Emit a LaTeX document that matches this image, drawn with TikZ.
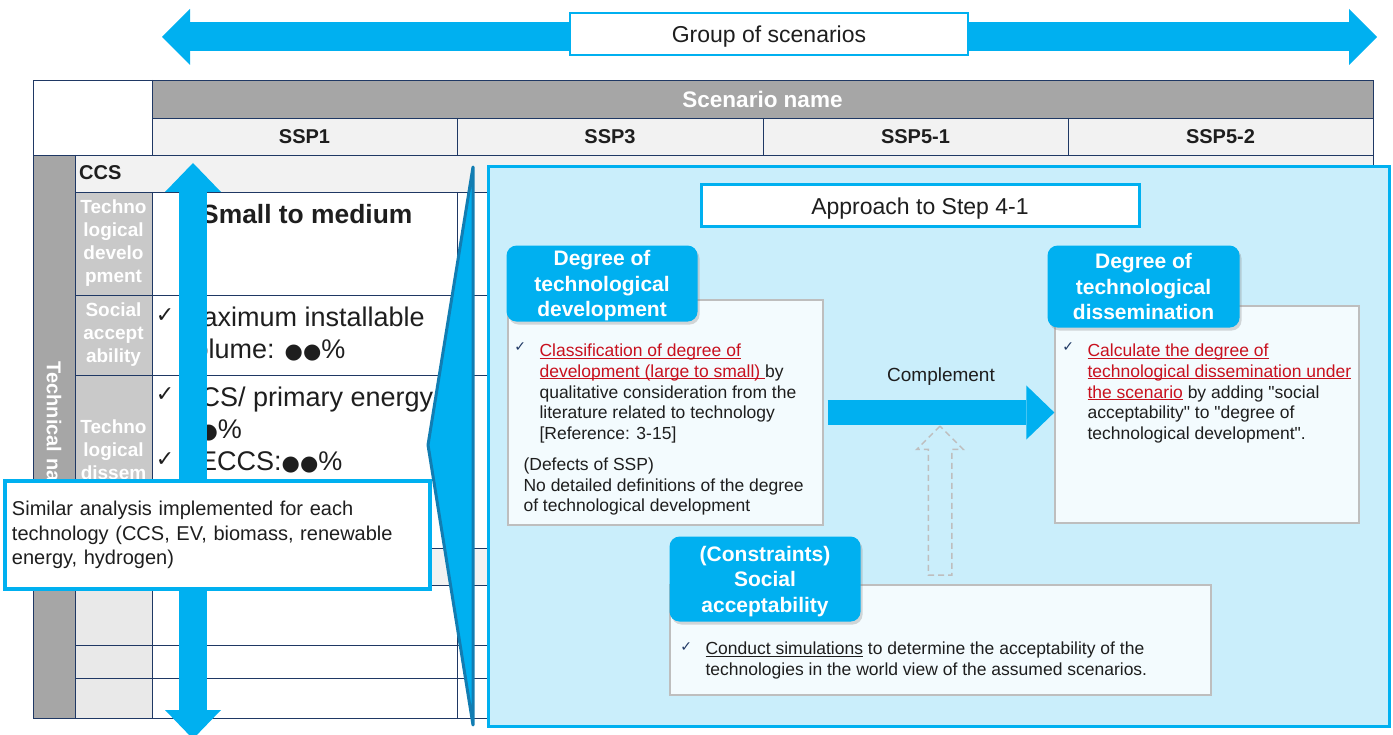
\documentclass[tikz,border=0pt]{standalone}
\usepackage{fontspec}
\setmainfont[Ligatures=TeXOff]{Liberation Sans}
\newfontfamily\dejavu{DejaVu Sans}
\usepackage{xcolor}
\usetikzlibrary{arrows.meta,positioning,calc,shadows,shapes.arrows}

\definecolor{sky}{RGB}{0,176,240}
\definecolor{skypale}{RGB}{202,238,251}
\definecolor{skyedge}{RGB}{18,125,178}
\definecolor{navy}{RGB}{31,56,100}
\definecolor{hdgray}{RGB}{166,166,166}
\definecolor{rhgray}{RGB}{201,201,201}
\definecolor{pale}{RGB}{242,242,242}
\definecolor{lowgray}{RGB}{233,233,233}
\definecolor{edgegray}{RGB}{190,190,190}
\definecolor{notefill}{RGB}{243,251,254}
\definecolor{redtxt}{RGB}{200,16,30}
\definecolor{ink}{RGB}{30,30,30}

\newcommand{\fsz}[2]{\fontsize{#1}{#2}\selectfont}
\newsavebox{\undlbox}
\newcommand{\undl}[1]{\sbox\undlbox{#1}\rlap{\rule[-2pt]{\wd\undlbox}{0.9pt}}\usebox\undlbox}
\newcommand{\dotglyph}{{\dejavu\fsz{21}{21}●}}

\begin{document}
\begin{tikzpicture}[x=1pt, y=-1pt,
  tblline/.style={draw=navy, line width=0.9pt},
  colhead/.style={font=\bfseries\fsz{20}{24}, text=ink, inner sep=0pt},
  rowhead/.style={font=\bfseries\fsz{19}{23}, text=white, align=center, inner sep=0pt},
  cell/.style={font=\fsz{27}{32}, text=ink, anchor=west, align=left, inner sep=0pt},
  bigtick/.style={font=\dejavu\fsz{22}{22}, text=ink, inner sep=0pt},
  titlebox/.style={draw=sky, line width=3pt, fill=white, text=ink, font=\fsz{23}{27}, inner sep=0pt, text depth=0pt},
  tabbox/.style={fill=sky, rounded corners=10pt, text=white, align=center, font=\bfseries\fsz{21}{25.5}, inner sep=0pt, text depth=0pt, anchor=north west, drop shadow={shadow xshift=2pt, shadow yshift=-3pt, opacity=0.3}},
  notebox/.style={draw=edgegray, fill=notefill, line width=1.3pt, inner sep=0pt},
  notetext/.style={font=\fsz{17.5}{20.8}, text=ink, align=left, anchor=north west, inner sep=0pt},
  smalltick/.style={font=\dejavu\fsz{14}{14}, text=navy, inner sep=0pt}]
\useasboundingbox (0,0) rectangle (1393,735);
% scenario table
\fill[hdgray] (152,80) rectangle (1373,118);
\fill[pale] (152,118) rectangle (1373,155);
\fill[hdgray] (33,155) rectangle (75,718);
\fill[pale] (75,155) rectangle (1373,192);
\fill[rhgray] (75,192) rectangle (152,548);
\fill[pale] (75,548) rectangle (1373,585);
\fill[lowgray] (75,585) rectangle (152,718);
\draw[tblline] (33,80) rectangle (1373,718);
\draw[tblline] (152,80) -- (152,155) (152,118) -- (1373,118) (33,155) -- (1373,155)
  (75,155) -- (75,718) (75,192) -- (1373,192) (152,192) -- (152,718);
\foreach \cx in {457,763,1068}
  \draw[tblline] (\cx,118) -- (\cx,155) (\cx,192) -- (\cx,548) (\cx,585) -- (\cx,718);
\foreach \ry in {295,375,548,585,645,678}
  \draw[tblline] (75,\ry) -- (1373,\ry);
\node[font=\bfseries\fsz{22.5}{27}, text=white, inner sep=0pt] (scname) at (762.5,99) {Scenario name};
\foreach \lab/\cx in {SSP1/304.5, SSP3/610, SSP5-1/915.5, SSP5-2/1220.5}
  \node[colhead] (h-\lab) at (\cx,137) {\lab};
\node[colhead, anchor=west] (ccs) at (79,173) {CCS};
\node[rowhead, rotate=-90, font=\bfseries\fsz{20}{24}] (techname) at (54,436) {Technical name};
\node[rowhead] (rhdev) at (113.5,243.5) {Techno\\logical\\develo\\pment};
\node[rowhead] (rhsoc) at (113.5,335) {Social\\accept\\ability};
\node[rowhead] (rhdis) at (113.5,461) {Techno\\logical\\dissem\\ination};
\node[cell, font=\bfseries\fsz{26.4}{32}] (cdev) at (201,214) {Small to medium};
\node[bigtick] (tk1) at (165,316) {✓};
\node[cell] (csoc) at (180,334) {Maximum installable\\volume: \dotglyph\dotglyph\%};
\node[bigtick] (tk2) at (165,395) {✓};
\node[cell] (cdis1) at (181,414) {CCS/ primary energy:\\\dotglyph\dotglyph\%};
\node[bigtick] (tk3) at (165,460) {✓};
\node[cell] (cdis2) at (181,462) {BECCS:\dotglyph\dotglyph\%};
% vertical double arrow over the SSP1 column
\coordinate (vtop) at (193,163);
\coordinate (vbot) at (193,739);
\draw[draw=sky, line width=28pt, {Triangle[length=29pt, width=56pt, line width=0pt]}-{Triangle[length=29pt, width=56pt, line width=0pt]}] (vtop) -- (vbot);
% chevron
\filldraw[fill=sky, draw=skyedge, line width=3pt, line join=round] (473,167) -- (428,445) -- (473,725) -- cycle;
% approach panel
\node[draw=sky, fill=skypale, line width=3pt, minimum width=901pt, minimum height=559pt, inner sep=0pt] (panel) at (938.5,446.5) {};
\node[titlebox, minimum width=438pt, minimum height=42pt] (approach) at (920,206) {Approach to Step 4-1};
\node[notebox, minimum width=315pt, minimum height=225pt] (devbody) at (665.5,412.5) {};
\node[notebox, minimum width=304pt, minimum height=217pt] (disbody) at (1207,414.5) {};
\node[notebox, minimum width=541pt, minimum height=110pt] (socbody) at (940.5,640) {};
\node[tabbox, minimum width=191pt, minimum height=76pt] (devtab) at ([xshift=-1pt,yshift=54pt]devbody.north west) {Degree of\\technological\\development};
\node[tabbox, minimum width=192pt, minimum height=82pt] (distab) at ([xshift=-7pt,yshift=60pt]disbody.north west) {Degree of\\technological\\dissemination};
\node[tabbox, minimum width=191pt, minimum height=85pt] (soctab) at ([yshift=48pt]socbody.north west) {(Constraints)\\Social\\acceptability};
\node[smalltick] (devtick) at ([xshift=13pt,yshift=-48pt]devbody.north west) {✓};
\node[notetext] (devtxt) at ([xshift=32pt,yshift=-44.3pt]devbody.north west) {\textcolor{redtxt}{\undl{Classification of degree of}}\\\textcolor{redtxt}{\undl{development (large to small)\ }}by\\qualitative consideration from the\\literature related to technology\\{}[Reference: 3-15]};
\node[notetext] (devnote) at ([xshift=16pt,yshift=-158pt]devbody.north west) {(Defects of SSP)\\No detailed definitions of the degree\\of technological development};
\node[smalltick] (distick) at ([xshift=14pt,yshift=-42pt]disbody.north west) {✓};
\node[notetext] (distxt) at ([xshift=33pt,yshift=-38.3pt]disbody.north west) {\textcolor{redtxt}{\undl{Calculate the degree of}}\\\textcolor{redtxt}{\undl{technological dissemination under}}\\\textcolor{redtxt}{\undl{the scenario}} by adding "social\\acceptability" to "degree of\\technological development".};
\node[smalltick] (soctick) at ([xshift=17pt,yshift=-63pt]socbody.north west) {✓};
\node[notetext] (soctxt) at ([xshift=36pt,yshift=-57.3pt]socbody.north west) {\undl{Conduct simulations} to determine the acceptability of the\\technologies in the world view of the assumed scenarios.};
\draw[draw=sky, line width=25pt, -{Triangle[length=28pt, width=54pt, line width=0pt]}] ([xshift=4pt]devbody.east) -- node[midway, yshift=36pt, font=\fsz{19}{23}, text=ink] (cmpl) {Complement} (devbody.east -| disbody.west);
\node[single arrow, draw=edgegray, dash pattern=on 6pt off 4pt, line width=1.5pt, rotate=90, minimum height=149pt, minimum width=45pt, single arrow head extend=11.5pt, single arrow tip angle=90, inner sep=0pt] (cnstarrow) at (940,506.5) {\rule{0pt}{22pt}};
% group of scenarios
\coordinate (grpL) at (162,37);
\coordinate (grpR) at (1377,37);
\draw[draw=sky, line width=29pt, {Triangle[length=28pt, width=56pt, line width=0pt]}-{Triangle[length=28pt, width=56pt, line width=0pt]}] (grpL) -- (grpR);
\node[titlebox, line width=2.5pt, minimum width=398pt, minimum height=42pt] (grpbox) at (769,34) {Group of scenarios};
% callout
\node[draw=sky, line width=3.5pt, fill=white, minimum width=425pt, minimum height=108pt, text width=411pt, inner sep=7pt, align=left, font=\fsz{20}{24.5}, text=ink] (similar) at (217.5,535) {Similar analysis implemented for each\\technology (CCS, EV, biomass, renewable\\energy, hydrogen)};
\end{tikzpicture}
\end{document}
